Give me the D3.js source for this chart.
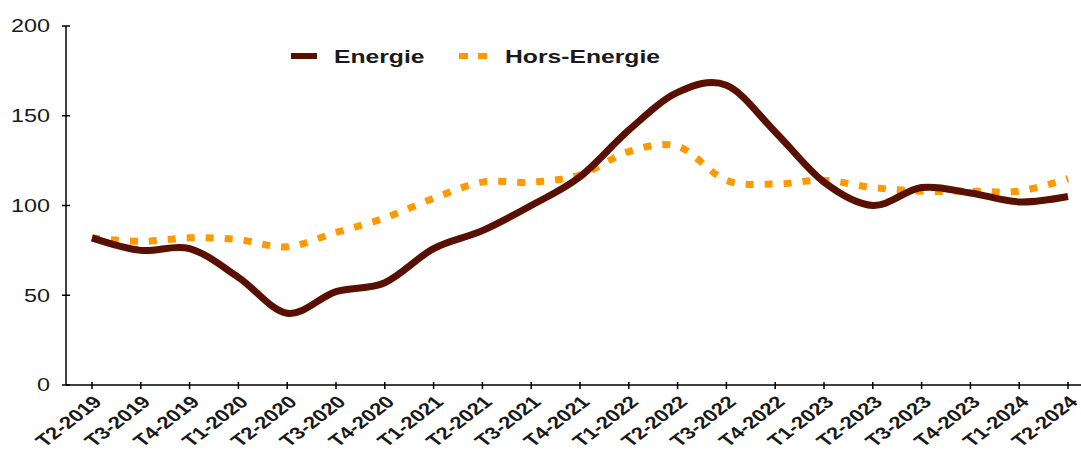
<!DOCTYPE html>
<html>
<head>
<meta charset="utf-8">
<script src="https://cdn.jsdelivr.net/npm/d3@7"></script>
<style>
  body { margin: 0; background: #fff; }
  text { font-family: "Liberation Sans", Arial, sans-serif; fill: #1a1a1a; }
</style>
</head>
<body>
<script>
// trimestres
const quarters = ["T2-2019", "T3-2019", "T4-2019", "T1-2020", "T2-2020", "T3-2020", "T4-2020",
  "T1-2021", "T2-2021", "T3-2021", "T4-2021", "T1-2022", "T2-2022", "T3-2022", "T4-2022",
  "T1-2023", "T2-2023", "T3-2023", "T4-2023", "T1-2024", "T2-2024"];
const energie = [82, 75, 76, 60, 40, 52, 57, 76, 86, 100, 116, 142, 163, 167, 141, 113, 100, 110, 107, 102, 105];
const horsEnergie = [82, 80, 82, 81, 77, 85, 93, 104, 113, 113, 117, 130, 133, 114, 112, 114, 110, 108, 108, 108, 115];
const yTicks = [0, 50, 100, 150, 200];

const width = 1081, height = 451;
const sx = 1.3; // le graphique d'origine est étiré horizontalement

const svg = d3.select("body").append("svg")
  .attr("width", width)
  .attr("height", height);

const x = d3.scalePoint().domain(quarters).range([92, 1068]);
const y = d3.scaleLinear().domain([0, 200]).range([385, 26]);

// axes
svg.append("line")
  .attr("x1", 66).attr("x2", width).attr("y1", y(0)).attr("y2", y(0))
  .attr("stroke", "#000").attr("stroke-width", 1.5);
svg.append("line")
  .attr("x1", 66).attr("x2", 66).attr("y1", y(0)).attr("y2", y(200))
  .attr("stroke", "#000").attr("stroke-width", 1.5);

svg.append("g").selectAll("line")
  .data(yTicks)
  .enter().append("line")
  .attr("x1", 62).attr("x2", 70)
  .attr("y1", function (d) { return y(d); })
  .attr("y2", function (d) { return y(d); })
  .attr("stroke", "#000").attr("stroke-width", 1.5);

svg.append("g").selectAll("text")
  .data(yTicks)
  .enter().append("text")
  .text(function (d) { return d; })
  .attr("text-anchor", "end")
  .attr("dy", "0.36em")
  .attr("font-size", 18)
  .attr("transform", function (d) { return "translate(50," + y(d) + ") scale(" + sx + ",1)"; });

svg.append("g").selectAll("line")
  .data(quarters)
  .enter().append("line")
  .attr("x1", function (d) { return x(d); })
  .attr("x2", function (d) { return x(d); })
  .attr("y1", y(0) - 3).attr("y2", y(0) + 4)
  .attr("stroke", "#000").attr("stroke-width", 1.5);

svg.append("g").selectAll("text")
  .data(quarters)
  .enter().append("text")
  .text(function (d) { return d; })
  .attr("text-anchor", "end")
  .attr("font-size", 17)
  .attr("font-weight", "bold")
  .attr("transform", function (d) {
    return "translate(" + (x(d) + 11) + "," + (y(0) + 18) + ") scale(" + sx + ",1) rotate(-45)";
  });

// courbes
const line = d3.line()
  .x(function (d, i) { return x(quarters[i]); })
  .y(function (d) { return y(d); })
  .curve(d3.curveCatmullRom.alpha(0));

svg.append("path")
  .attr("d", line(horsEnergie))
  .attr("fill", "none")
  .attr("stroke", "#ff9900")
  .attr("stroke-width", 7)
  .attr("stroke-dasharray", "8,11");

svg.append("path")
  .attr("d", line(energie))
  .attr("fill", "none")
  .attr("stroke", "#5a1000")
  .attr("stroke-width", 7);

// légende
const legend = svg.append("g");
legend.append("line")
  .attr("x1", 291).attr("x2", 317).attr("y1", 56).attr("y2", 56)
  .attr("stroke", "#5a1000").attr("stroke-width", 6);
legend.append("text")
  .text("Energie")
  .attr("font-size", 19).attr("font-weight", "bold")
  .attr("transform", "translate(334,63) scale(" + sx + ",1)");
legend.append("line")
  .attr("x1", 459).attr("x2", 488).attr("y1", 56).attr("y2", 56)
  .attr("stroke", "#ff9900").attr("stroke-width", 6)
  .attr("stroke-dasharray", "9,10");
legend.append("text")
  .text("Hors-Energie")
  .attr("font-size", 19).attr("font-weight", "bold")
  .attr("transform", "translate(505,63) scale(" + sx + ",1)");
</script>
</body>
</html>
